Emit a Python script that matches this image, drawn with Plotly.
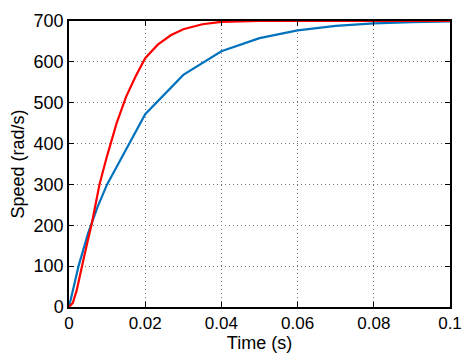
import plotly.graph_objects as go

# Speed response (rad/s) versus time (s)
t_red = [0, 0.001, 0.002, 0.003, 0.004, 0.005, 0.006, 0.008, 0.01, 0.0125, 0.015,
         0.0175, 0.02, 0.0233, 0.0267, 0.03, 0.035, 0.04, 0.05, 0.06, 0.08, 0.1]
speed_red = [0, 10, 40, 85, 125, 165, 205, 300, 370, 450, 515,
             565, 609, 642, 665, 680, 692, 698, 700, 700, 700, 700]

t_blue = [0, 0.0025, 0.005, 0.0075, 0.01, 0.02, 0.03, 0.04, 0.05, 0.06,
          0.07, 0.08, 0.09, 0.1]
speed_blue = [0, 100, 180, 245, 300, 472, 568, 626, 658, 677,
              688, 694, 697, 699]

x_ticks = [0, 0.02, 0.04, 0.06, 0.08, 0.1]
x_tick_text = ["0", "0.02", "0.04", "0.06", "0.08", "0.1"]
y_ticks = [0, 100, 200, 300, 400, 500, 600, 700]

fig = go.Figure()
fig.add_trace(go.Scatter(x=t_blue, y=speed_blue, mode="lines",
                         line=dict(color="#0072BD", width=2.2)))
fig.add_trace(go.Scatter(x=t_red, y=speed_red, mode="lines",
                         line=dict(color="#FF0000", width=2.2)))

font = dict(family="Liberation Sans, Arial, sans-serif", size=18, color="#000")
xfont = dict(font, size=17)
axis_common = dict(
    showline=True, linecolor="#000", linewidth=1.5, mirror="allticks",
    ticks="inside", ticklen=5, tickcolor="#000", tickwidth=1,
    showgrid=True, gridcolor="#777", griddash="1px,3px", gridwidth=1,
    zeroline=False, automargin=False, ticklabeloverflow="allow",
)

fig.update_layout(
    width=462, height=358,
    margin=dict(l=69, r=12, t=21, b=51),
    paper_bgcolor="white", plot_bgcolor="white",
    showlegend=False,
    font=font,
    xaxis=dict(range=[0, 0.1], tickvals=x_ticks, ticktext=x_tick_text, tickfont=xfont,
               title=dict(text="Time (s)", font=font, standoff=2), **axis_common),
    yaxis=dict(range=[0, 700], tickvals=y_ticks, tickfont=font,
               title=dict(text="Speed (rad/s)", font=font, standoff=4), **axis_common),
)

fig.write_html("out.html")
